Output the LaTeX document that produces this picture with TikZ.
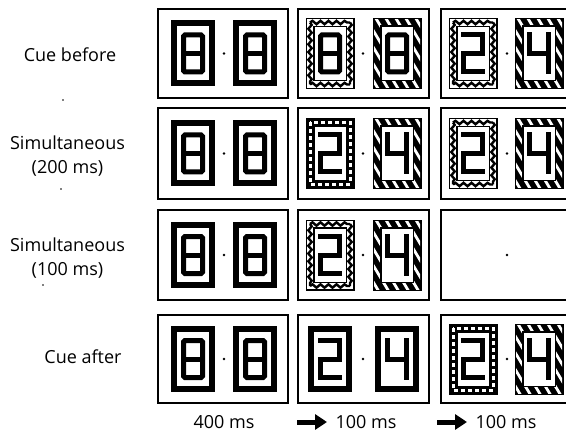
\documentclass[tikz,border=0pt]{standalone}
\usepackage{fontspec}
\setmainfont{Open Sans}
\usetikzlibrary{decorations.pathmorphing,arrows.meta}

\tikzset{
  seg/.style={line width=5pt, line cap=rect, line join=miter},
  heavyframe/.style={line width=6pt},
  thinline/.style={line width=1.4pt},
  panelbox/.style={line width=1.3pt, fill=white},
  lab/.style={font=\fontsize{18}{21}\selectfont, inner sep=0pt},
  lab2/.style={font=\fontsize{18}{24}\selectfont, inner sep=0pt, align=center},
  timearrow/.style={line width=5pt, -{Triangle[length=12pt,width=15pt]}},
}

% seven-segment glyph centred at the origin (2, 4 or 8)
\newcommand\segglyph[1]{%
  \ifcase#1\or\or
    \draw[seg] (-9.5,-18.5) -- (9.5,-18.5) -- (9.5,0) -- (-9.5,0) -- (-9.5,18.5) -- (9.5,18.5);
  \or\or
    \draw[seg] (-9.5,-18.5) -- (-9.5,0) -- (9.5,0);
    \draw[seg] (9.5,-18.5) -- (9.5,18.5);
  \or\or\or\or
    \draw[seg, rounded corners=1.5pt] (-9.5,-18.5) rectangle (9.5,18.5);
    \draw[seg] (-9.5,0) -- (9.5,0);
  \fi}

% digit in a plain heavy frame
\newcommand\digPlain[3]{\begin{scope}[shift={(#1,#2)}]
  \draw[heavyframe] (-19,-30) rectangle (19,30);
  \segglyph{#3}
\end{scope}}

% digit in a mask frame of white slanted stripes on black
\newcommand\digStripe[3]{\begin{scope}[shift={(#1,#2)}]
  \fill (-24.5,-35.5) rectangle (24.5,35.5);
  \begin{scope}
    \clip (-23,-34) rectangle (23,34);
    \foreach \k in {-90,-80,...,90} \draw[white, line width=2.8pt] (\k-24,-40) -- (\k+24,40);
  \end{scope}
  \fill (-17,-28) rectangle (17,28);
  \fill[white] (-15.5,-26.5) rectangle (15.5,26.5);
  \segglyph{#3}
\end{scope}}

% digit in a mask frame with a wavy band (one wave run per side)
\tikzset{wavy/.style={line width=2.4pt, decorate, decoration={snake, segment length=#1, amplitude=1.7pt}}}
\newcommand\digWave[3]{\begin{scope}[shift={(#1,#2)}]
  \draw[thinline, fill=white] (-23.8,-34.8) rectangle (23.8,34.8);
  \draw[thinline] (-16.2,-27.2) rectangle (16.2,27.2);
  \draw[wavy=8pt] (-20,-31) -- (20,-31);
  \draw[wavy=8pt] (-20,31) -- (20,31);
  \draw[wavy=7.75pt] (-20,-31) -- (-20,31);
  \draw[wavy=7.75pt] (20,-31) -- (20,31);
  \segglyph{#3}
\end{scope}}

% digit in a mask frame of white dashes on black
\newcommand\digDash[3]{\begin{scope}[shift={(#1,#2)}]
  \fill (-24.5,-35.5) rectangle (24.5,35.5);
  \fill[white] (-15.5,-26.5) rectangle (15.5,26.5);
  \draw[white, line width=3pt, dash pattern=on 4pt off 3pt] (-20,-31) rectangle (20,31);
  \segglyph{#3}
\end{scope}}

\newcommand\fixdot[2]{\fill (#1,#2) circle (1.3pt);}

\begin{document}
\begin{tikzpicture}[x=1pt, y=-1pt]
\useasboundingbox (0,0) rectangle (566,436);
\clip (0,0) rectangle (566,436);

% condition labels
\node[lab]  (cuebefore) at (70,55)  {Cue before};
\node[lab2] (sim200)    at (67.5,156) {Simultaneous\\(200 ms)};
\node[lab2] (sim100)    at (67.5,258) {Simultaneous\\(100 ms)};
\node[lab]  (cueafter)  at (83,357) {Cue after};

% small specks
\fill (63,100) circle (0.8pt);
\fill (61,189) circle (0.8pt);
\fill (43,285) circle (0.8pt);

% first frame: 400 ms, all rows
\foreach \yt/\yb/\yc in {9/98/53.5, 108/199/153.5, 210/300/255, 315/403/359}{
  \draw[panelbox] (158,\yt) rectangle (288,\yb);
  \digPlain{193}{\yc}{8}
  \digPlain{255}{\yc}{8}
  \fixdot{224}{\yc}
}

% row 1: cue before
\draw[panelbox] (298,9) rectangle (429,98);
\digWave{330}{53.5}{8} \digStripe{397}{53.5}{8} \fixdot{363}{53.5}
\draw[panelbox] (441,9) rectangle (580,98);
\digWave{473}{53.5}{2} \digStripe{539}{53.5}{4} \fixdot{507}{53.5}

% row 2: simultaneous 200 ms
\draw[panelbox] (298,108) rectangle (429,199);
\digDash{330}{153.5}{2} \digStripe{397}{153.5}{4} \fixdot{363}{153.5}
\draw[panelbox] (441,108) rectangle (580,199);
\digWave{473}{153.5}{2} \digStripe{539}{153.5}{4} \fixdot{507}{153.5}

% row 3: simultaneous 100 ms
\draw[panelbox] (298,210) rectangle (429,300);
\digWave{330}{255}{2} \digStripe{397}{255}{4} \fixdot{363}{255}
\draw[panelbox] (441,210) rectangle (580,300);
\fixdot{507}{255}

% row 4: cue after
\draw[panelbox] (298,315) rectangle (429,403);
\digPlain{330}{359}{2} \digPlain{397}{359}{4} \fixdot{363}{359}
\draw[panelbox] (441,315) rectangle (580,403);
\digDash{473}{359}{2} \digStripe{539}{359}{4} \fixdot{507}{359}

% timing line
\node[lab] (t400)  at (224,422) {400 ms};
\node[lab] (t100a) at (366,422) {100 ms};
\node[lab] (t100b) at (506,422) {100 ms};
\coordinate (a1s) at (297,422); \coordinate (a1e) at (327,422);
\coordinate (a2s) at (437,422); \coordinate (a2e) at (467,422);
\draw[timearrow] (a1s) -- (a1e);
\draw[timearrow] (a2s) -- (a2e);
\end{tikzpicture}
\end{document}
